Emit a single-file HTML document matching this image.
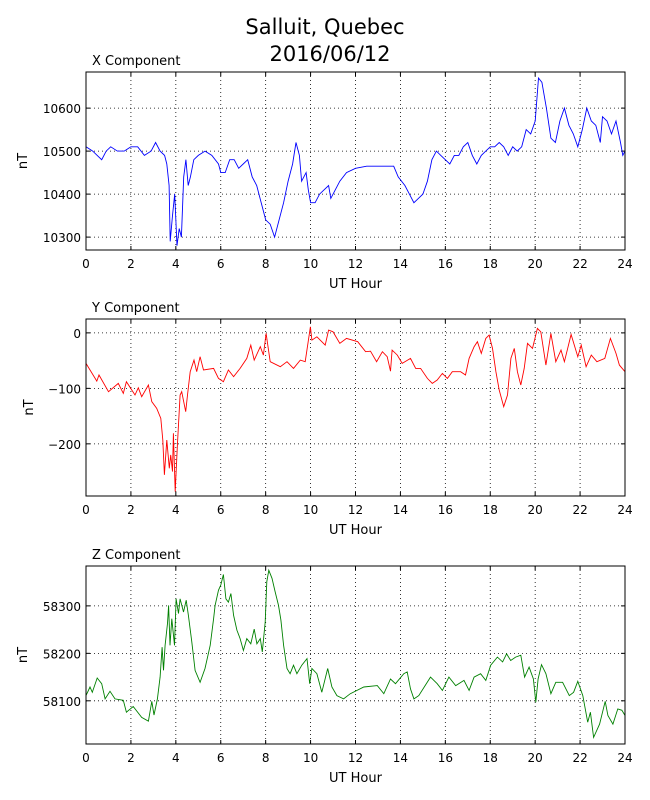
<!DOCTYPE html>
<html><head><meta charset="utf-8"><style>
body{margin:0;background:#fff;}
svg{display:block;font-family:"DejaVu Sans","Liberation Sans",sans-serif;}
</style></head><body>
<svg id="chart" width="650" height="800" viewBox="0 0 650 800">
<text x="325" y="34" font-size="21" text-anchor="middle">Salluit, Quebec</text>
<text x="330" y="61" font-size="21" text-anchor="middle">2016/06/12</text>
</svg>
<script>
const xTicks=[0,2,4,6,8,10,12,14,16,18,20,22,24];
const xHours=[0,0.3,0.5,0.7,0.9,1.1,1.4,1.7,2.0,2.3,2.6,2.9,3.1,3.3,3.5,3.6,3.7,3.75,3.85,3.95,4.05,4.15,4.25,4.35,4.45,4.55,4.65,4.8,5.0,5.3,5.6,5.9,6.0,6.2,6.4,6.6,6.8,7.0,7.2,7.4,7.6,7.8,8.0,8.2,8.4,8.6,8.8,9.0,9.2,9.35,9.5,9.6,9.8,9.9,10.0,10.2,10.4,10.6,10.8,10.9,11.1,11.3,11.6,12.0,12.5,13.0,13.7,13.9,14.2,14.4,14.6,14.8,15.0,15.2,15.4,15.6,15.8,16.0,16.2,16.4,16.6,16.8,17.0,17.2,17.4,17.6,17.8,18.0,18.2,18.4,18.6,18.8,19.0,19.2,19.4,19.6,19.8,20.0,20.15,20.3,20.5,20.7,20.9,21.1,21.3,21.5,21.7,21.9,22.1,22.3,22.5,22.7,22.9,23.0,23.2,23.4,23.6,23.8,23.9,24.0];
const xValues=[10510,10500,10490,10480,10500,10510,10500,10500,10510,10510,10490,10500,10520,10500,10490,10470,10420,10290,10350,10400,10280,10320,10300,10440,10480,10420,10440,10480,10490,10500,10490,10470,10450,10450,10480,10480,10460,10470,10480,10440,10420,10380,10340,10330,10300,10340,10380,10430,10470,10520,10490,10430,10450,10410,10380,10380,10400,10410,10420,10390,10410,10430,10450,10460,10465,10465,10465,10440,10420,10400,10380,10390,10400,10430,10480,10500,10490,10480,10470,10490,10490,10510,10520,10490,10470,10490,10500,10510,10510,10520,10510,10490,10510,10500,10510,10550,10540,10570,10670,10660,10600,10530,10520,10570,10600,10560,10540,10510,10550,10600,10570,10560,10520,10580,10570,10540,10570,10520,10490,10500];
const yHours=[0,0.48,0.58,1.0,1.44,1.66,1.8,2.18,2.33,2.48,2.78,2.93,3.15,3.33,3.42,3.49,3.6,3.71,3.77,3.85,3.89,3.97,4.07,4.19,4.26,4.44,4.52,4.64,4.81,4.93,5.08,5.23,5.68,5.9,6.12,6.34,6.57,6.86,7.16,7.34,7.49,7.76,7.9,8.02,8.2,8.65,8.95,9.24,9.54,9.76,9.99,10.06,10.28,10.65,10.8,11.0,11.3,11.6,12.1,12.45,12.67,12.94,13.2,13.41,13.56,13.63,13.86,14.08,14.45,14.68,14.9,15.2,15.42,15.64,15.87,16.09,16.31,16.68,16.9,17.06,17.28,17.43,17.6,17.8,17.95,18.1,18.25,18.4,18.6,18.77,18.92,19.07,19.21,19.36,19.51,19.66,19.88,20.1,20.25,20.48,20.7,20.92,21.15,21.3,21.6,21.9,22.05,22.27,22.5,22.75,23.1,23.35,23.6,23.75,24.0];
const yValues=[-55,-87,-76,-106,-91,-109,-88,-112,-99,-115,-94,-124,-136,-154,-193,-256,-193,-244,-220,-250,-181,-286,-202,-112,-106,-142,-112,-70,-49,-70,-43,-67,-64,-82,-88,-67,-79,-64,-46,-22,-49,-25,-40,-1,-52,-61,-52,-64,-49,-52,11,-13,-7,-22,5,2,-19,-10,-16,-34,-33,-52,-34,-43,-69,-31,-40,-55,-46,-64,-64,-82,-91,-85,-73,-82,-70,-70,-76,-46,-25,-16,-37,-10,-4,-28,-70,-103,-133,-112,-46,-28,-70,-94,-64,-19,-28,8,2,-58,-1,-52,-31,-52,-3,-43,-22,-61,-40,-52,-46,-10,-37,-58,-70];
const zHours=[0,0.18,0.28,0.5,0.7,0.85,1.07,1.29,1.66,1.8,2.1,2.48,2.78,2.93,3.03,3.18,3.3,3.39,3.45,3.52,3.63,3.68,3.74,3.82,3.94,4.01,4.12,4.19,4.34,4.46,4.56,4.71,4.86,5.08,5.3,5.53,5.68,5.75,5.9,6.0,6.12,6.23,6.34,6.45,6.57,6.72,6.86,7.01,7.16,7.34,7.49,7.61,7.76,7.85,7.98,8.05,8.14,8.28,8.42,8.57,8.68,8.8,8.95,9.09,9.24,9.39,9.61,9.84,9.96,10.06,10.28,10.5,10.76,10.95,11.17,11.47,11.77,12.37,12.97,13.26,13.56,13.78,14.15,14.3,14.45,14.6,14.82,15.34,15.64,15.87,16.16,16.46,16.83,17.06,17.28,17.57,17.8,18.02,18.32,18.55,18.73,18.91,19.13,19.36,19.53,19.73,19.92,20.03,20.13,20.28,20.48,20.7,20.92,21.22,21.52,21.71,21.9,22.12,22.34,22.46,22.6,22.87,23.12,23.24,23.46,23.68,23.86,24.0];
const zValues=[58111,58129,58118,58148,58136,58104,58120,58104,58101,58076,58088,58065,58057,58099,58070,58104,58150,58213,58164,58217,58263,58301,58217,58273,58217,58315,58284,58315,58287,58312,58280,58224,58164,58139,58168,58217,58273,58301,58333,58344,58366,58315,58308,58326,58280,58249,58231,58206,58231,58220,58251,58220,58231,58203,58266,58351,58375,58358,58330,58301,58270,58217,58168,58157,58175,58157,58175,58189,58136,58168,58157,58118,58168,58129,58111,58104,58115,58129,58132,58115,58146,58136,58157,58161,58125,58104,58111,58150,58136,58122,58150,58132,58143,58122,58150,58157,58143,58175,58192,58182,58199,58185,58192,58196,58150,58171,58146,58097,58146,58176,58157,58115,58139,58139,58111,58118,58141,58111,58055,58076,58023,58051,58099,58069,58051,58083,58080,58069];
const xCompTicks=[10300,10400,10500,10600];
const yCompTicks=[-200,-100,0];
const zCompTicks=[58100,58200,58300];

const NS="http://www.w3.org/2000/svg";
const svg=document.getElementById('chart');
function mk(tag,attrs,parent){const e=document.createElementNS(NS,tag);for(const k in attrs)e.setAttribute(k,attrs[k]);(parent||svg).appendChild(e);return e;}
const L=86,R=625;
function xScale(h){return L+(h/24)*(R-L);}

function panel(cfg){
  const g=mk('g',{});
  
  
  const top=cfg.top,bot=cfg.bot;
  const yScale=v=>bot-(v-cfg.min)/(cfg.max-cfg.min)*(bot-top);
  xTicks.forEach(t=>{
    const x=xScale(t);
    if(t>0&&t<24){const gl=mk('line',{x1:x,x2:x,y1:top,y2:bot,stroke:'#000','stroke-width':0.8,'stroke-dasharray':'1,3'},g);
    
    }
    mk('line',{x1:x,x2:x,y1:bot,y2:bot-4,stroke:'#000','stroke-width':1},g);
    mk('line',{x1:x,x2:x,y1:top,y2:top+4,stroke:'#000','stroke-width':1},g);
    const tl=mk('text',{x:x,y:bot+18,'font-size':12,'text-anchor':'middle'},g);
    tl.textContent=t;
    
    
  });
  cfg.ticks.forEach(t=>{
    const y=yScale(t);
    const gl=mk('line',{x1:L,x2:R,y1:y,y2:y,stroke:'#000','stroke-width':0.8,'stroke-dasharray':'1,3'},g);
    
    
    mk('line',{x1:L,x2:L+4,y1:y,y2:y,stroke:'#000','stroke-width':1},g);
    mk('line',{x1:R,x2:R-4,y1:y,y2:y,stroke:'#000','stroke-width':1},g);
    const tl=mk('text',{x:L-5,y:y+5,'font-size':12,'text-anchor':'end'},g);
    tl.textContent=(t<0?'\u2212'+(-t):t);
    
    
  });
  let d='';
  cfg.hours.forEach((h,i)=>{d+=(i?'L':'M')+xScale(h).toFixed(1)+','+yScale(cfg.vals[i]).toFixed(1);});
  const p=mk('path',{d:d,fill:'none',stroke:cfg.color,'stroke-width':0.9},g);
  
  
  const fr=mk('rect',{x:L,y:top,width:R-L,height:bot-top,fill:'none',stroke:'#000','stroke-width':1},g);
  
  
  const ti=mk('text',{x:92,y:top-7,'font-size':13},g);
  ti.textContent=cfg.title;
  
  
  const xl=mk('text',{x:(L+R)/2,y:bot+38,'font-size':13,'text-anchor':'middle'},g);
  xl.textContent='UT Hour';
  
  
  const cy=(top+bot)/2;
  const yl=mk('text',{x:cfg.ylx,y:cy,'font-size':13,'text-anchor':'middle',transform:'rotate(-90 '+cfg.ylx+' '+cy+')'},g);
  yl.textContent='nT';
  
  
}
panel({name:'x-component',title:'X Component',top:72,bot:250,min:10270,max:10684,ticks:xCompTicks,hours:xHours,vals:xValues,color:'#0000ff',ylx:27});
panel({name:'y-component',title:'Y Component',top:319,bot:496,min:-294,max:25,ticks:yCompTicks,hours:yHours,vals:yValues,color:'#ff0000',ylx:33});
panel({name:'z-component',title:'Z Component',top:566,bot:744,min:58009,max:58384,ticks:zCompTicks,hours:zHours,vals:zValues,color:'#008000',ylx:27});
</script>
</body></html>
